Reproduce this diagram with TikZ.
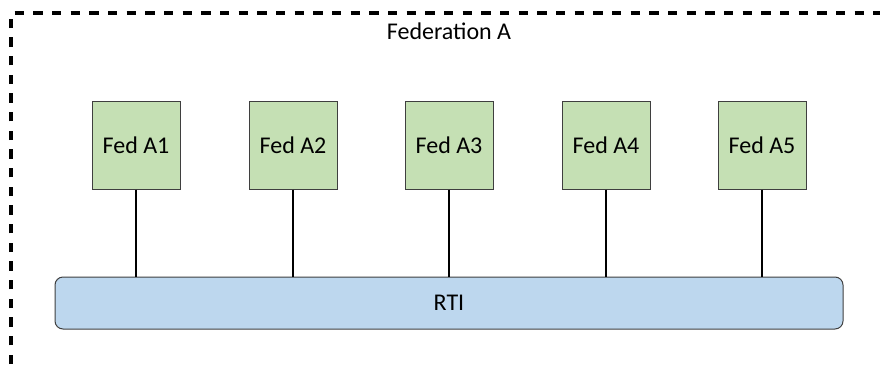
\documentclass[tikz,border=0pt]{standalone}
\usepackage{fontspec}
\setmainfont{Carlito}
\usepackage{tikz}

\definecolor{fedgreen}{HTML}{C5E0B4}
\definecolor{rtiblue}{HTML}{BDD7EE}
\definecolor{edgegray}{HTML}{3F3F3F}

\begin{document}
\begin{tikzpicture}[x=0.75pt,y=-0.75pt,
	fed/.style={draw=edgegray,fill=fedgreen,line width=0.75pt,minimum width=66pt,minimum height=66pt,inner sep=0pt,font=\fontsize{18}{22}\selectfont},
	rti/.style={draw=edgegray,fill=rtiblue,line width=0.75pt,rounded corners=6pt,minimum width=591pt,minimum height=39pt,inner sep=0pt,font=\fontsize{18}{22}\selectfont},
	link/.style={black,line width=1pt}]

	\useasboundingbox (0,0) rectangle (880,364);

	% federation frame
	\draw[line width=2.7pt,dash pattern=on 7pt off 7pt] (11,364) -- (11,13) -- (880,13);
	\node[font=\fontsize{18}{22}\selectfont] (title) at (449,31) {Federation A};

	% federates
	\node[fed] (a1) at (136,145) {Fed A1};
	\node[fed] (a2) at (293,145) {Fed A2};
	\node[fed] (a3) at (449,145) {Fed A3};
	\node[fed] (a4) at (606,145) {Fed A4};
	\node[fed] (a5) at (762,145) {Fed A5};

	% runtime infrastructure
	\node[rti] (rti) at (449,303) {RTI};

	\draw[link] (a1.south) -- (a1.south |- rti.north);
	\draw[link] (a2.south) -- (a2.south |- rti.north);
	\draw[link] (a3.south) -- (a3.south |- rti.north);
	\draw[link] (a4.south) -- (a4.south |- rti.north);
	\draw[link] (a5.south) -- (a5.south |- rti.north);
\end{tikzpicture}
\end{document}
